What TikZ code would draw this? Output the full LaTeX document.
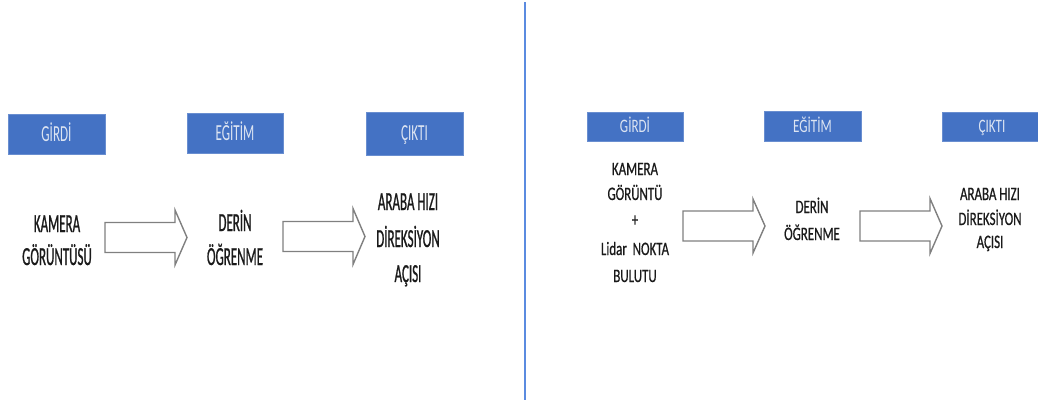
\documentclass[tikz,border=0pt]{standalone}
\usepackage{fontspec}
\setmainfont{Carlito}
\newfontfamily\bodyL[FakeStretch=0.5,FakeBold=0.8]{Carlito}
\newfontfamily\bodyR[FakeStretch=0.68,FakeBold=0.6]{Carlito}
\newfontfamily\headL[FakeStretch=0.57]{Carlito}
\newfontfamily\headR[FakeStretch=0.69]{Carlito}
\definecolor{hdrblue}{HTML}{4472C4}
\definecolor{hdrtext}{HTML}{DCE4F2}
\definecolor{divider}{HTML}{5B8BE0}
\definecolor{arrowgray}{HTML}{808080}
\definecolor{ink}{HTML}{1A1A1A}
\tikzset{
  hdrL/.style={fill=hdrblue, draw=hdrblue!80!white, line width=0.8pt, text=hdrtext,
    font=\headL\fontsize{23}{28}\selectfont, text height=14.5pt, text depth=0pt, inner sep=0pt},
  hdrR/.style={fill=hdrblue, draw=hdrblue!80!white, line width=0.8pt, text=hdrtext,
    font=\headR\fontsize{19}{23}\selectfont, text height=12pt, text depth=0pt, inner sep=0pt},
  txtL/.style={anchor=base, inner sep=0pt, text=ink, font=\bodyL\fontsize{26}{32}\selectfont},
  txtR/.style={anchor=base, inner sep=0pt, text=ink, font=\bodyR\fontsize{19}{24}\selectfont},
  barrow/.style={draw=arrowgray, fill=white, line width=1.4pt, line join=miter}
}
% block arrow: #1 tail x, #2 tip x, #3 centre y, #4 half shaft, #5 half head, #6 head length
\newcommand{\blockarrow}[6]{%
  \draw[barrow] ({#1},{#3-#4}) -- ({#2-#6},{#3-#4}) -- ({#2-#6},{#3-#5}) -- ({#2},{#3})
    -- ({#2-#6},{#3+#5}) -- ({#2-#6},{#3+#4}) -- ({#1},{#3+#4}) -- cycle;}
\begin{document}
\begin{tikzpicture}[x=1pt,y=-1pt]
\useasboundingbox (0,0) rectangle (1038,402);
\clip (0,0) rectangle (1038,402);
\fill[white] (0,0) rectangle (1038,402);

% divider between the two pipelines
\coordinate (divtop) at (525,2);
\coordinate (divbot) at (525,400);
\draw[divider, line width=2.4pt] (divtop) -- (divbot);

% ---- left pipeline: camera only ----
\node[hdrL, minimum width=97pt, minimum height=40pt] (lin)  at (56.5,134)  {GİRDİ};
\node[hdrL, minimum width=96pt, minimum height=40pt] (ltr)  at (235,133)   {EĞİTİM};
\node[hdrL, minimum width=97pt, minimum height=43pt] (lout) at (414.5,133.5) {ÇIKTI};

\node[txtL] (lcam1) at (57,232) {KAMERA};
\node[txtL] (lcam2) at (57,265) {GÖRÜNTÜSÜ};
\node[txtL] (ldl1) at (235,231) {DERİN};
\node[txtL] (ldl2) at (235,265) {ÖĞRENME};
\node[txtL] (lo1) at (408,210) {ARABA HIZI};
\node[txtL] (lo2) at (408,247) {DİREKSİYON};
\node[txtL] (lo3) at (408,282) {AÇISI};

\blockarrow{105}{187}{237.5}{15}{27.5}{12}
\blockarrow{283}{365}{236.5}{15}{28}{12}

% ---- right pipeline: camera + lidar ----
\node[hdrR, minimum width=96pt, minimum height=29pt] (rin)  at (635,126.5) {GİRDİ};
\node[hdrR, minimum width=97pt, minimum height=30pt] (rtr)  at (812.5,126) {EĞİTİM};
\node[hdrR, minimum width=100pt, minimum height=29pt] (rout) at (992,126.5) {ÇIKTI};

\node[txtR] (rcam1) at (635,175) {KAMERA};
\node[txtR] (rcam2) at (635,200) {GÖRÜNTÜ};
\node[txtR] (rplus) at (635,226) {+};
\node[txtR] (rlid1) at (635,255) {Lidar\ \ NOKTA};
\node[txtR] (rlid2) at (635,282) {BULUTU};
\node[txtR] (rdl1) at (812,213) {DERİN};
\node[txtR] (rdl2) at (812,240) {ÖĞRENME};
\node[txtR] (ro1) at (990,200) {ARABA HIZI};
\node[txtR] (ro2) at (990,225) {DİREKSİYON};
\node[txtR] (ro3) at (990,248) {AÇISI};

\blockarrow{683}{765}{226}{15}{27}{12}
\blockarrow{860}{942}{226}{15}{27.5}{12}
\end{tikzpicture}
\end{document}
